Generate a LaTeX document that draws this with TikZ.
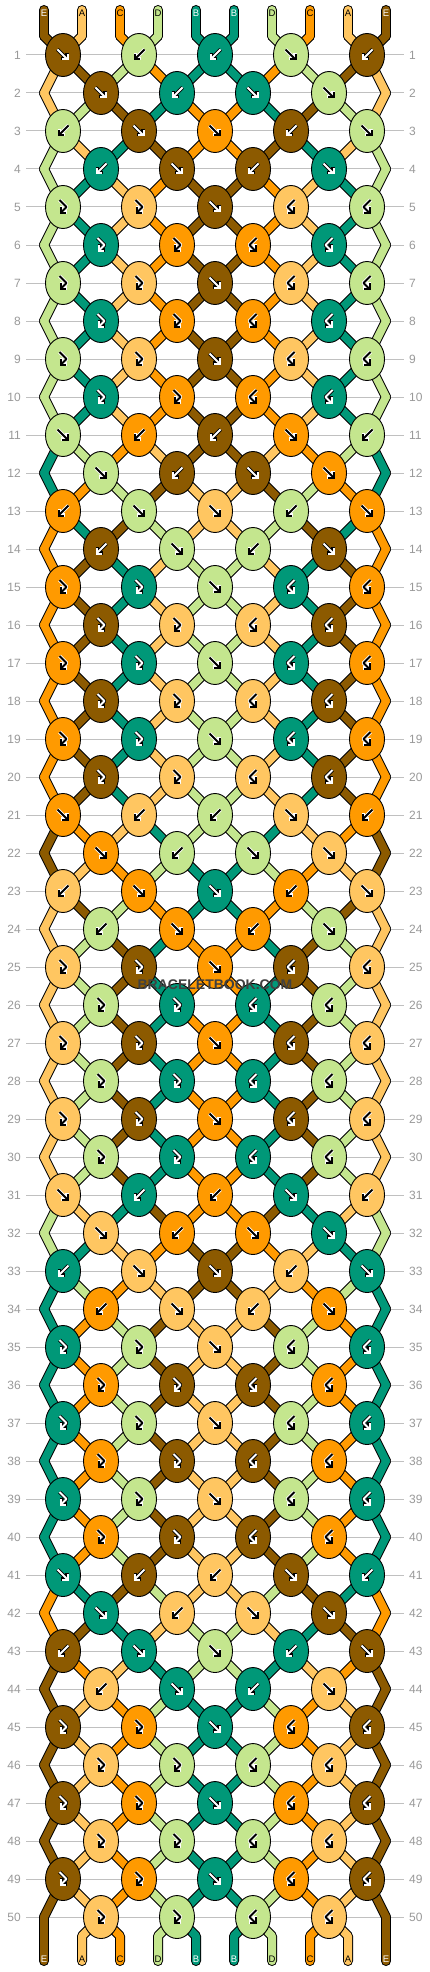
\documentclass[tikz,border=0pt]{standalone}
\usepackage{fontspec}
\setmainfont{Liberation Sans}
\usetikzlibrary{arrows.meta,shapes.geometric}

\definecolor{colE}{HTML}{8C5A00}
\definecolor{colA}{HTML}{FFC661}
\definecolor{colC}{HTML}{FF9A00}
\definecolor{colD}{HTML}{C4E68E}
\definecolor{colB}{HTML}{009878}
\colorlet{signE}{white}\colorlet{ringE}{black}
\colorlet{signB}{white}\colorlet{ringB}{black}
\colorlet{signA}{black}\colorlet{ringA}{white}
\colorlet{signC}{black}\colorlet{ringC}{white}
\colorlet{signD}{black}\colorlet{ringD}{white}
\definecolor{rowgray}{HTML}{999999}
\definecolor{linegray}{HTML}{C0C0C0}

\pgfdeclarelayer{grid}
\pgfdeclarelayer{rim}
\pgfdeclarelayer{strand}
\pgfsetlayers{grid,rim,strand,main}

\tikzset{
  knot/.style={ellipse, draw=black, line width=0.9pt, minimum width=35pt, minimum height=43pt, inner sep=0pt},
  strand rim/.style={line width=10pt, black, line cap=round, line join=round},
  strand/.style={line width=8pt, line cap=round, line join=round},
  sign rim/.style={line width=3.8pt, ring#1, line join=round, -{Straight Barb[length=4.2pt,width=8.4pt]}},
  sign body/.style={line width=2pt, sign#1, line join=round, -{Straight Barb[length=4.2pt,width=8.4pt]}},
  rowlab/.style={text=rowgray, font=\fontsize{12}{12}\selectfont, inner xsep=5pt, inner ysep=0pt},
  rowline/.style={draw=linegray, line width=1pt},
  strlab/.style={font=\fontsize{9.5}{10}\selectfont, inner sep=0pt},
  watermark/.style={font=\bfseries\fontsize{14}{14}\selectfont, text=black!75}
}

% knot types of one row: f forward, b backward, r forward-backward, l backward-forward
\newcommand\setpat[2]{\expandafter\def\csname pat#1\endcsname{#2}}
\setpat{1}{f,b,b,f,b}
\setpat{2}{f,b,f,f}
\setpat{3}{b,f,f,b,f}
\setpat{4}{b,f,b,f}
\setpat{5}{r,r,f,l,l}
\setpat{6}{r,r,l,l}
\setpat{7}{r,r,f,l,l}
\setpat{8}{r,r,l,l}
\setpat{9}{r,r,f,l,l}
\setpat{0}{r,r,l,l}

% name of the point where string #2 sits in row #1
\newcommand\ptname[2]{%
  \ifnum#1=0 \edef\ptn{t-#2}\else
  \ifodd#1 \pgfmathtruncatemacro\cc{#2-mod(#2,2)}\edef\ptn{k#1-\cc}\else
  \ifnum#2=0 \edef\ptn{e#1-L}\else
  \ifnum#2=9 \edef\ptn{e#1-R}\else
  \pgfmathtruncatemacro\cc{#2-mod(#2+1,2)}\edef\ptn{k#1-\cc}%
  \fi\fi\fi\fi}

% collect drawing commands for the lower layers
\newcommand\addcmd[2]{\xdef#1{\unexpanded\expandafter{#1}#2}}
\gdef\gridcmds{}
\gdef\rimcmds{}
\gdef\strandcmds{}

\begin{document}
\begin{tikzpicture}[x=1pt,y=-1pt]
\useasboundingbox (0,0) rectangle (430,1972);

% loose ends at the top
\foreach \ps/\sc in {0/E,1/A,2/C,3/D,4/B,5/B,6/D,7/C,8/A,9/E}{
  \pgfmathsetmacro\x{215+38*(\ps-4.5)}
  \expandafter\xdef\csname s\ps\endcsname{\sc}
  \coordinate (u-\ps) at (\x,10);
  \coordinate (t-\ps) at (\x,36);
  \node[strlab, text=sign\sc] (top-\ps) at (\x,13) {\sc};
  \addcmd\rimcmds{\noexpand\draw[strand rim] (u-\ps) -- (t-\ps);}
  \addcmd\strandcmds{\noexpand\draw[strand, col\sc] (u-\ps) -- (t-\ps);}
}

\foreach \row in {1,...,50}{
  \pgfmathsetmacro\y{55+38*(\row-1)}
  \pgfmathtruncatemacro\isodd{mod(\row,2)}
  \pgfmathtruncatemacro\patkey{mod(\row,10)}
  \pgfmathtruncatemacro\prev{\row-1}
  \node[rowlab, anchor=east] (ll\row) at (26,\y) {\row};
  \node[rowlab, anchor=west] (rl\row) at (404,\y) {\row};
  \addcmd\gridcmds{\noexpand\draw[rowline] (ll\row.east) -- (rl\row.west);}
  \ifnum\isodd=0
    \coordinate (e\row-L) at (44,\y);
    \coordinate (e\row-R) at (386,\y);
  \fi
  \edef\knots{\csname pat\patkey\endcsname}
  % knots
  \foreach \kt [count=\kn from 0] in \knots {
    \pgfmathtruncatemacro\lft{2*\kn+1-\isodd}
    \pgfmathtruncatemacro\rgt{\lft+1}
    \pgfmathsetmacro\x{215+38*(\lft-4)}
    \edef\kc{\csname s\rgt\endcsname}
    \if\kt f\edef\kc{\csname s\lft\endcsname}\fi
    \if\kt r\edef\kc{\csname s\lft\endcsname}\fi
    \if\kt f\def\sgn{(-5.5,-5.5) -- (5.5,5.5)}\fi
    \if\kt b\def\sgn{(5.5,-5.5) -- (-5.5,5.5)}\fi
    \if\kt r\def\sgn{(-3.5,-7) -- (3.5,0) -- (-3.5,7)}\fi
    \if\kt l\def\sgn{(3.5,-7) -- (-3.5,0) -- (3.5,7)}\fi
    \node[knot, fill=col\kc] (k\row-\lft) at (\x,\y) {};
    \draw[sign rim=\kc, shift={(\x,\y)}] \sgn;
    \draw[sign body=\kc, shift={(\x,\y)}] \sgn;
  }
  % strings coming in from the row above
  \foreach \ps in {0,...,9}{
    \ptname{\prev}{\ps}\let\fromname\ptn
    \ptname{\row}{\ps}\let\toname\ptn
    \edef\sc{\csname s\ps\endcsname}
    \addcmd\rimcmds{\noexpand\draw[strand rim] (\fromname.center) -- (\toname.center);}
    \addcmd\strandcmds{\noexpand\draw[strand, col\sc] (\fromname.center) -- (\toname.center);}
  }
  % swap strings
  \foreach \kt [count=\kn from 0] in \knots {
    \pgfmathtruncatemacro\lft{2*\kn+1-\isodd}
    \pgfmathtruncatemacro\rgt{\lft+1}
    \edef\sta{\csname s\lft\endcsname}
    \edef\stb{\csname s\rgt\endcsname}
    \if\kt f\expandafter\xdef\csname s\lft\endcsname{\stb}\expandafter\xdef\csname s\rgt\endcsname{\sta}\fi
    \if\kt b\expandafter\xdef\csname s\lft\endcsname{\stb}\expandafter\xdef\csname s\rgt\endcsname{\sta}\fi
  }
}

% loose ends at the bottom
\foreach \ps in {0,...,9}{
  \pgfmathsetmacro\x{215+38*(\ps-4.5)}
  \edef\sc{\csname s\ps\endcsname}
  \ptname{50}{\ps}\let\fromname\ptn
  \coordinate (b-\ps) at (\x,1936);
  \coordinate (w-\ps) at (\x,1961);
  \node[strlab, text=sign\sc] (bot-\ps) at (\x,1959) {\sc};
  \addcmd\rimcmds{\noexpand\draw[strand rim] (\fromname.center) -- (b-\ps) -- (w-\ps);}
  \addcmd\strandcmds{\noexpand\draw[strand, col\sc] (\fromname.center) -- (b-\ps) -- (w-\ps);}
}

\begin{pgfonlayer}{grid}
  \fill[white] (0,0) rectangle (430,1972);
  \gridcmds
\end{pgfonlayer}
\begin{pgfonlayer}{rim}\rimcmds\end{pgfonlayer}
\begin{pgfonlayer}{strand}\strandcmds\end{pgfonlayer}

\node[watermark] (logo) at (215,985) {BRACELETBOOK.COM};
\end{tikzpicture}
\end{document}
